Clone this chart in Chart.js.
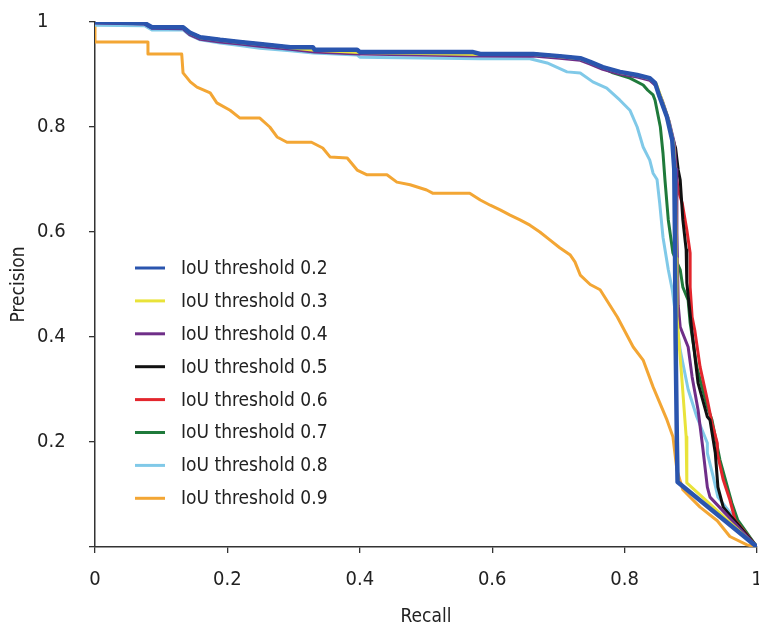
<!DOCTYPE html>
<html>
<head>
<meta charset="utf-8">
<script src="https://cdn.jsdelivr.net/npm/chart.js@4/dist/chart.umd.min.js"></script>
<style>
html,body{margin:0;padding:0;background:#fff;}
#wrap{width:759px;height:628px;position:relative;}
</style>
</head>
<body>
<div id="wrap"><canvas id="c" width="759" height="628"></canvas></div>
<script>
const FONT = "'Liberation Sans Narrow','DejaVu Sans Condensed','Roboto Condensed',Roboto,sans-serif";

const seriesLabels = ['IoU threshold 0.2','IoU threshold 0.3','IoU threshold 0.4','IoU threshold 0.5','IoU threshold 0.6','IoU threshold 0.7','IoU threshold 0.8','IoU threshold 0.9'];
const xTicks = [0,0.2,0.4,0.6,0.8,1];
const yTicks = [0.2,0.4,0.6,0.8,1];

// [recall, precision]
const iou02 = [[0,1],[0.075,0.998],[0.086,0.99],[0.133,0.99],[0.143,0.98],[0.159,0.971],[0.189,0.966],[0.219,0.962],[0.249,0.958],[0.295,0.952],[0.329,0.952],[0.332,0.947],[0.396,0.947],[0.40,0.943],[0.57,0.943],[0.582,0.939],[0.662,0.939],[0.702,0.935],[0.733,0.931],[0.748,0.924],[0.767,0.914],[0.793,0.905],[0.819,0.899],[0.838,0.893],[0.846,0.884],[0.853,0.857],[0.864,0.819],[0.872,0.775],[0.875,0.72],[0.876,0.6],[0.877,0.4],[0.879,0.2],[0.88,0.124],[1,0]];
const iou03 = [[0,1],[0.075,0.998],[0.086,0.99],[0.133,0.99],[0.143,0.979],[0.159,0.97],[0.189,0.965],[0.219,0.961],[0.249,0.957],[0.295,0.951],[0.332,0.946],[0.40,0.942],[0.582,0.938],[0.662,0.938],[0.702,0.934],[0.733,0.93],[0.748,0.923],[0.767,0.913],[0.793,0.904],[0.819,0.898],[0.838,0.892],[0.848,0.882],[0.856,0.853],[0.866,0.815],[0.874,0.77],[0.877,0.7],[0.878,0.55],[0.879,0.44],[0.887,0.312],[0.893,0.21],[0.894,0.122],[1,0]];
const iou04 = [[0,0.998],[0.075,0.996],[0.086,0.988],[0.133,0.987],[0.143,0.976],[0.159,0.967],[0.189,0.962],[0.219,0.958],[0.249,0.954],[0.295,0.948],[0.332,0.943],[0.40,0.939],[0.582,0.935],[0.662,0.935],[0.702,0.931],[0.733,0.927],[0.748,0.92],[0.767,0.91],[0.793,0.901],[0.819,0.895],[0.838,0.889],[0.848,0.878],[0.857,0.85],[0.867,0.812],[0.875,0.77],[0.878,0.72],[0.879,0.6],[0.881,0.46],[0.884,0.419],[0.896,0.381],[0.902,0.324],[0.911,0.261],[0.918,0.19],[0.925,0.114],[0.929,0.095],[1,0]];
const iou05 = [[0,1],[0.075,0.998],[0.086,0.99],[0.133,0.99],[0.143,0.98],[0.159,0.971],[0.189,0.966],[0.219,0.962],[0.249,0.958],[0.295,0.952],[0.332,0.947],[0.40,0.943],[0.582,0.939],[0.662,0.939],[0.702,0.935],[0.733,0.931],[0.748,0.924],[0.767,0.914],[0.793,0.905],[0.819,0.899],[0.838,0.893],[0.846,0.884],[0.853,0.857],[0.864,0.819],[0.872,0.78],[0.877,0.76],[0.881,0.718],[0.884,0.699],[0.888,0.623],[0.893,0.566],[0.894,0.503],[0.902,0.408],[0.911,0.312],[0.925,0.248],[0.929,0.242],[0.937,0.179],[0.941,0.114],[0.949,0.076],[1,0]];
const iou06 = [[0,1],[0.075,0.998],[0.086,0.99],[0.133,0.99],[0.143,0.98],[0.159,0.971],[0.189,0.966],[0.219,0.962],[0.249,0.958],[0.295,0.952],[0.332,0.947],[0.40,0.943],[0.582,0.939],[0.662,0.939],[0.702,0.935],[0.733,0.931],[0.748,0.924],[0.767,0.914],[0.793,0.905],[0.819,0.899],[0.838,0.893],[0.846,0.884],[0.853,0.857],[0.864,0.819],[0.872,0.78],[0.877,0.718],[0.881,0.68],[0.887,0.655],[0.894,0.604],[0.899,0.56],[0.899,0.495],[0.902,0.438],[0.906,0.413],[0.914,0.343],[0.925,0.28],[0.932,0.236],[0.940,0.198],[0.940,0.179],[0.949,0.128],[0.959,0.09],[0.967,0.051],[1,0]];
const iou07 = [[0,1],[0.075,0.998],[0.086,0.99],[0.133,0.99],[0.143,0.98],[0.159,0.971],[0.189,0.966],[0.219,0.962],[0.249,0.958],[0.295,0.952],[0.332,0.947],[0.40,0.943],[0.582,0.939],[0.662,0.939],[0.702,0.935],[0.733,0.931],[0.748,0.924],[0.7825,0.903],[0.808,0.893],[0.828,0.88],[0.835,0.87],[0.843,0.861],[0.846,0.851],[0.854,0.80],[0.858,0.75],[0.861,0.699],[0.866,0.623],[0.873,0.56],[0.884,0.528],[0.888,0.495],[0.896,0.47],[0.899,0.427],[0.909,0.343],[0.925,0.267],[0.932,0.242],[0.937,0.21],[0.944,0.166],[0.962,0.084],[0.971,0.051],[1,0]];
const iou08 = [[0,0.994],[0.075,0.993],[0.086,0.985],[0.133,0.985],[0.143,0.975],[0.159,0.966],[0.189,0.96],[0.219,0.955],[0.249,0.95],[0.295,0.945],[0.33,0.941],[0.396,0.937],[0.40,0.933],[0.582,0.93],[0.657,0.93],[0.683,0.922],[0.713,0.905],[0.733,0.903],[0.752,0.886],[0.773,0.874],[0.793,0.851],[0.808,0.832],[0.819,0.80],[0.828,0.762],[0.838,0.737],[0.843,0.712],[0.849,0.70],[0.853,0.655],[0.858,0.59],[0.866,0.528],[0.872,0.49],[0.884,0.375],[0.896,0.30],[0.909,0.248],[0.925,0.198],[0.925,0.179],[0.934,0.133],[0.941,0.095],[1,0]];
const iou09 = [[0,1],[0,0.962],[0.080,0.962],[0.080,0.939],[0.131,0.939],[0.133,0.903],[0.144,0.886],[0.154,0.876],[0.174,0.865],[0.184,0.846],[0.204,0.832],[0.219,0.817],[0.249,0.817],[0.264,0.80],[0.275,0.781],[0.290,0.771],[0.327,0.771],[0.344,0.76],[0.355,0.743],[0.381,0.741],[0.396,0.718],[0.411,0.709],[0.441,0.709],[0.456,0.695],[0.476,0.69],[0.501,0.68],[0.510,0.674],[0.566,0.674],[0.582,0.661],[0.597,0.651],[0.612,0.642],[0.627,0.632],[0.642,0.623],[0.657,0.613],[0.672,0.60],[0.687,0.585],[0.702,0.57],[0.718,0.556],[0.725,0.543],[0.733,0.518],[0.748,0.50],[0.763,0.49],[0.789,0.438],[0.813,0.381],[0.828,0.356],[0.843,0.305],[0.864,0.242],[0.873,0.21],[0.879,0.147],[0.888,0.109],[0.914,0.076],[0.940,0.05],[0.959,0.02],[0.985,0.004],[1,0]];

const seriesData = [iou02,iou03,iou04,iou05,iou06,iou07,iou08,iou09];
const seriesColors = ['#2a55ae','#e9e33a','#6f2e88','#111111','#e3262d','#1f7a3b','#80c9e8','#f3a634'];
const seriesWidths = [4.5,3,3,3,3,3,3,3];

const datasets = seriesData.map((d,i)=>({
  label: seriesLabels[i],
  data: d.map(p=>({x:p[0], y:p[1]})),
  borderColor: seriesColors[i],
  backgroundColor: seriesColors[i],
  borderWidth: seriesWidths[i],
  showLine: true,
  pointRadius: 0,
  tension: 0,
  fill: false,
  borderJoinStyle: 'round'
}));

const customPlugin = {
  id: 'custom',
  afterDraw(chart){
    const {ctx, chartArea} = chart;
    ctx.save();
    // y-axis title
    ctx.fillStyle = '#222';
    ctx.font = '19px ' + FONT;
    ctx.textAlign = 'center';
    ctx.textBaseline = 'middle';
    ctx.translate(19, (chartArea.top + chartArea.bottom)/2);
    ctx.rotate(-Math.PI/2);
    ctx.fillText('Precision', 0, 0);
    ctx.restore();
    // legend
    ctx.save();
    const x0 = chartArea.left + 40, y0 = chartArea.top + 246, step = 32.9;
    ctx.font = '19px ' + FONT;
    ctx.textAlign = 'left';
    ctx.textBaseline = 'middle';
    seriesLabels.forEach((lab,i)=>{
      const y = y0 + i*step;
      ctx.strokeStyle = seriesColors[i];
      ctx.lineWidth = 3;
      ctx.beginPath(); ctx.moveTo(x0, y); ctx.lineTo(x0+30, y); ctx.stroke();
      ctx.fillStyle = '#222';
      ctx.fillText(lab, x0+46, y+1);
    });
    ctx.restore();
  }
};

new Chart(document.getElementById('c'), {
  type: 'scatter',
  data: { datasets },
  options: {
    responsive: false,
    animation: false,
    devicePixelRatio: 1,
    layout: { padding: { left: 37, right: 2, top: 22, bottom: 0 } },
    plugins: { legend: { display: false }, tooltip: { enabled: false } },
    scales: {
      x: {
        type: 'linear', min: 0, max: 1,
        afterBuildTicks(s){ s.ticks = xTicks.map(v=>({value:v})); },
        afterFit(s){ s.height = 81; s.paddingRight = 0; s.paddingLeft = 0; },
        ticks: { color:'#222', font:{family:FONT, size:20}, padding: 15, maxRotation:0,
          callback: v => String(v) },
        grid: { drawOnChartArea:false, tickLength:6, color:'#333', lineWidth:1.3 },
        border: { display:true, color:'#333', width:1.5 },
        title: { display:true, text:'Recall', color:'#222', font:{family:FONT, size:19}, padding:{top:0,bottom:0} }
      },
      y: {
        type: 'linear', min: 0, max: 1,
        afterBuildTicks(s){ s.ticks = [0].concat(yTicks).map(v=>({value:v})); },
        afterFit(s){ s.width = 58; s.paddingTop = 0; },
        ticks: { color:'#222', font:{family:FONT, size:20}, crossAlign:'far',
          callback: v => v === 0 ? '' : String(v) },
        grid: { drawOnChartArea:false, tickLength:6, color:'#333', lineWidth:1.3 },
        border: { display:true, color:'#333', width:1.5 }
      }
    }
  },
  plugins: [customPlugin]
});
</script>
</body>
</html>
